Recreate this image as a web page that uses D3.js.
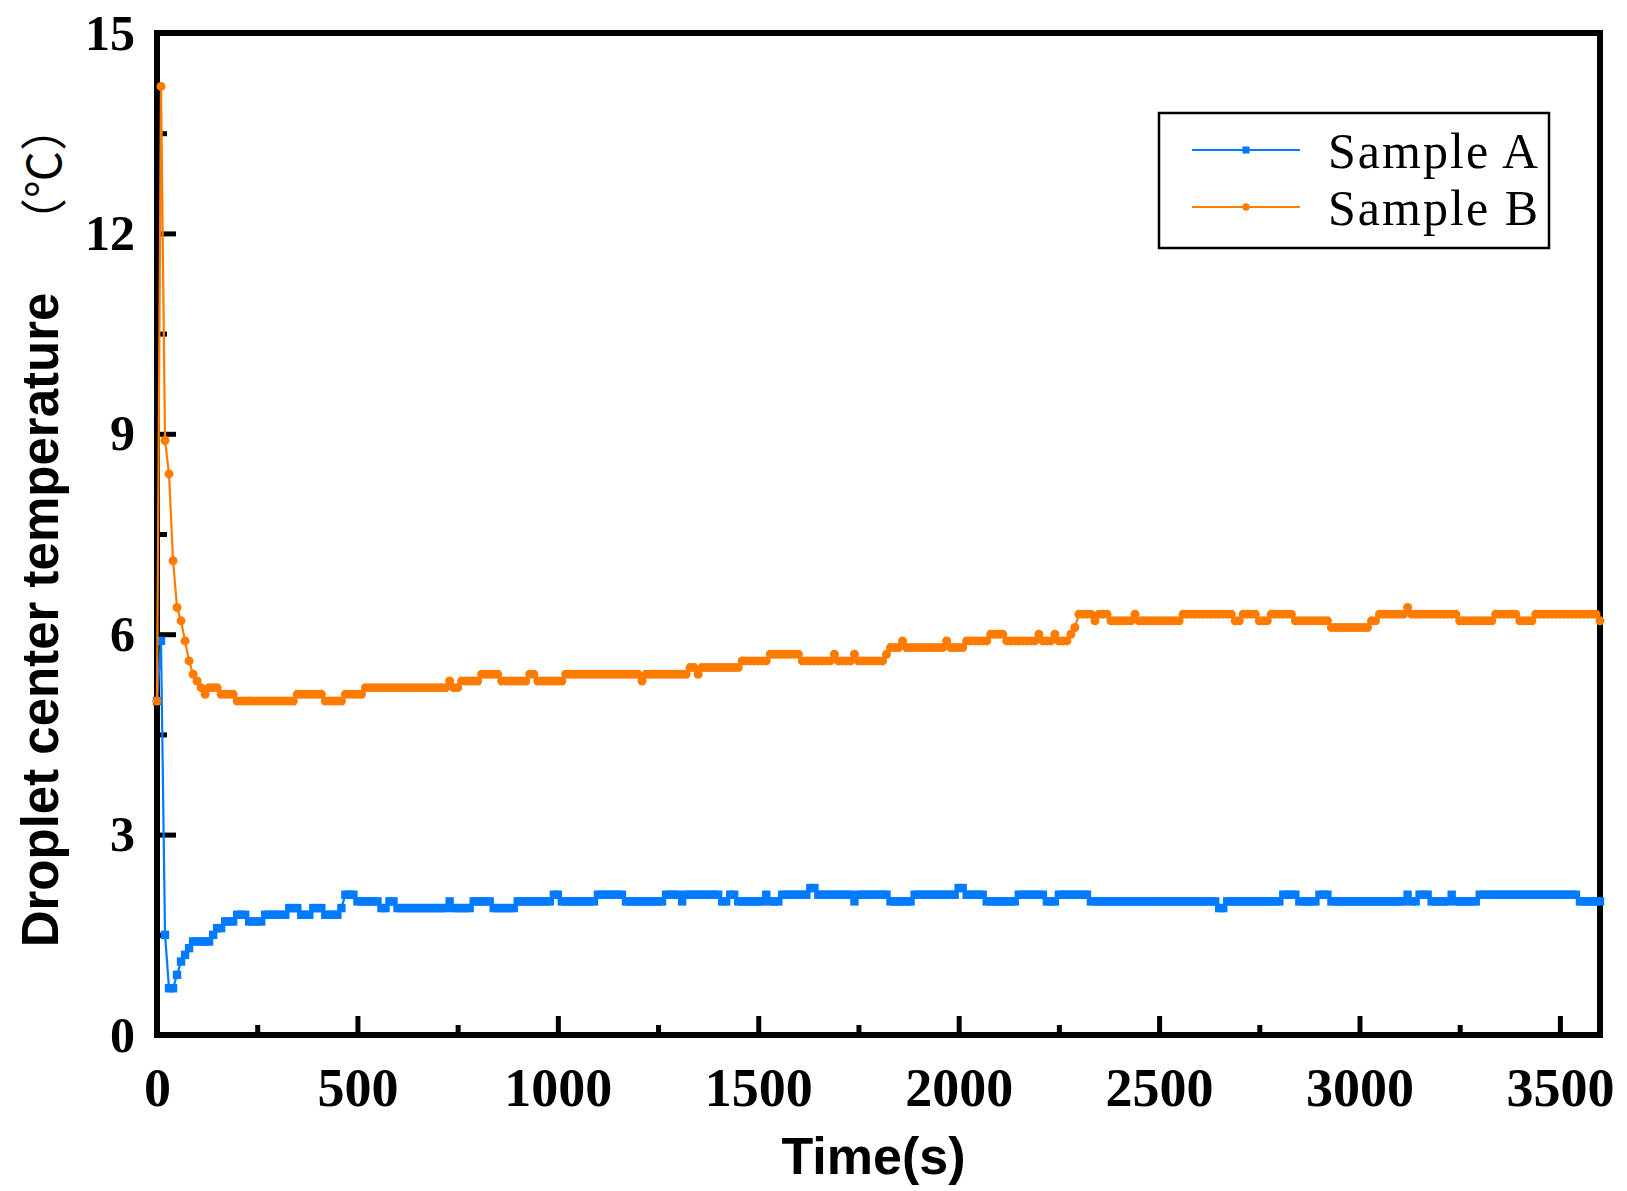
<!DOCTYPE html>
<html><head><meta charset="utf-8">
<script src="https://cdn.jsdelivr.net/npm/d3@7"></script>
<style>body{margin:0;background:#fff}</style>
</head><body><svg id="c" width="1627" height="1191"></svg>
<script>
const seriesNames = ["Sample A", "Sample B"];
const seriesColors = ["#007bff", "#ff7b00"];
const sampleInterval = 10;
const endTime = 3600;
// [time (s), temperature (°C)] at which the reading changes
const sampleAChanges = [[0,5.0],[10,5.9],[20,1.5],[30,0.7],[50,0.9],[60,1.1],[70,1.2],[80,1.3],[90,1.4],[140,1.5],[150,1.6],[170,1.7],[200,1.8],[230,1.7],[270,1.8],[330,1.9],[360,1.8],[390,1.9],[420,1.8],[460,1.9],[470,2.1],[500,2.0],[560,1.9],[580,2.0],[600,1.9],[730,2.0],[740,1.9],[790,2.0],[840,1.9],[900,2.0],[990,2.1],[1010,2.0],[1100,2.1],[1170,2.0],[1270,2.1],[1310,2.0],[1320,2.1],[1410,2.0],[1430,2.1],[1450,2.0],[1520,2.1],[1530,2.0],[1560,2.1],[1630,2.2],[1650,2.1],[1740,2.0],[1750,2.1],[1830,2.0],[1890,2.1],[2000,2.2],[2020,2.1],[2070,2.0],[2150,2.1],[2220,2.0],[2250,2.1],[2330,2.0],[2650,1.9],[2670,2.0],[2810,2.1],[2850,2.0],[2900,2.1],[2930,2.0],[3120,2.1],[3130,2.0],[3150,2.1],[3180,2.0],[3230,2.1],[3240,2.0],[3300,2.1],[3550,2.0]];
const sampleBChanges = [[0,5.0],[10,14.2],[20,8.9],[30,8.4],[40,7.1],[50,6.4],[60,6.2],[70,5.9],[80,5.6],[90,5.4],[100,5.3],[110,5.2],[120,5.1],[130,5.2],[160,5.1],[200,5.0],[350,5.1],[420,5.0],[470,5.1],[520,5.2],[730,5.3],[740,5.2],[760,5.3],[810,5.4],[860,5.3],[930,5.4],[950,5.3],[1020,5.4],[1210,5.3],[1220,5.4],[1330,5.5],[1350,5.4],[1360,5.5],[1460,5.6],[1530,5.7],[1610,5.6],[1690,5.7],[1700,5.6],[1740,5.7],[1750,5.6],[1820,5.7],[1830,5.8],[1860,5.9],[1870,5.8],[1970,5.9],[1980,5.8],[2020,5.9],[2080,6.0],[2120,5.9],[2200,6.0],[2210,5.9],[2240,6.0],[2250,5.9],[2280,6.0],[2290,6.1],[2300,6.3],[2340,6.2],[2350,6.3],[2380,6.2],[2440,6.3],[2450,6.2],[2560,6.3],[2690,6.2],[2710,6.3],[2750,6.2],[2780,6.3],[2840,6.2],[2930,6.1],[3030,6.2],[3050,6.3],[3120,6.4],[3130,6.3],[3250,6.2],[3340,6.3],[3400,6.2],[3440,6.3],[3600,6.2]];
const xTickValues = [0,500,1000,1500,2000,2500,3000,3500];
const xMinorTicks = [250,750,1250,1750,2250,2750,3250];
const yTickValues = [0,3,6,9,12,15];
const yMinorTicks = [1.5,4.5,7.5,10.5,13.5];
const xTitle = "Time(s)";
const yTitle = "Droplet center temperature";
const yUnit = "（℃）";

function expand(changes){
  const out=[]; let i=0;
  for(let t=0;t<=endTime;t+=sampleInterval){
    while(i+1<changes.length && changes[i+1][0]<=t) i++;
    out.push({t:t, v:changes[i][1]});
  }
  return out;
}
const seriesData = [expand(sampleAChanges), expand(sampleBChanges)];

const svg = d3.select("#c");
const L=157, R=1600, T=33, B=1035;
const x = d3.scaleLinear().domain([0,3600]).range([L,R]);
const y = d3.scaleLinear().domain([0,15]).range([B,T]);

const serif = "'Liberation Serif','Times New Roman',serif";
const sans = "'Liberation Sans',Arial,sans-serif";

// axes (ticks inward)
const gx = svg.append("g").attr("transform",`translate(0,${B})`)
  .call(d3.axisBottom(x).tickValues(xTickValues).tickSizeInner(-19).tickSizeOuter(0).tickPadding(33).tickFormat(d3.format("d")));
gx.select(".domain").remove();
gx.selectAll(".tick line").attr("stroke","#000").attr("stroke-width",5);
gx.selectAll(".tick text").attr("font-family",serif).attr("font-weight","bold").attr("font-size",54).attr("fill","#000");
const gxm = svg.append("g").attr("transform",`translate(0,${B})`)
  .call(d3.axisBottom(x).tickValues(xMinorTicks).tickSizeInner(-10).tickSizeOuter(0).tickFormat(""));
gxm.select(".domain").remove();
gxm.selectAll(".tick line").attr("stroke","#000").attr("stroke-width",5);

const gy = svg.append("g").attr("transform",`translate(${L},0)`)
  .call(d3.axisLeft(y).tickValues(yTickValues).tickSizeInner(-19).tickSizeOuter(0).tickPadding(22).tickFormat(d3.format("d")));
gy.select(".domain").remove();
gy.selectAll(".tick line").attr("stroke","#000").attr("stroke-width",5);
gy.selectAll(".tick text").attr("font-family",serif).attr("font-weight","bold").attr("font-size",50).attr("fill","#000");
const gym = svg.append("g").attr("transform",`translate(${L},0)`)
  .call(d3.axisLeft(y).tickValues(yMinorTicks).tickSizeInner(-10).tickSizeOuter(0).tickFormat(""));
gym.select(".domain").remove();
gym.selectAll(".tick line").attr("stroke","#000").attr("stroke-width",5);

// frame
svg.append("rect").attr("x",L).attr("y",T).attr("width",R-L).attr("height",B-T)
  .attr("fill","none").attr("stroke","#000").attr("stroke-width",6);

// series
const line = d3.line().x(d=>x(d.t)).y(d=>y(d.v));
seriesData.forEach((data,i)=>{
  const g = svg.append("g");
  g.append("path").datum(data).attr("d",line).attr("fill","none")
    .attr("stroke",seriesColors[i]).attr("stroke-width",2.2);
  if(i===0){
    g.selectAll("rect").data(data).join("rect")
      .attr("x",d=>x(d.t)-4.2).attr("y",d=>y(d.v)-4.2).attr("width",8.4).attr("height",8.4)
      .attr("fill",seriesColors[i]);
  } else {
    g.selectAll("circle").data(data).join("circle")
      .attr("cx",d=>x(d.t)).attr("cy",d=>y(d.v)).attr("r",4.5)
      .attr("fill",seriesColors[i]);
  }
});

// titles
svg.append("text").attr("x",(L+R)/2-5).attr("y",1174).attr("text-anchor","middle")
  .attr("font-family",sans).attr("font-weight","bold").attr("font-size",52).text(xTitle);
svg.append("text").attr("transform","translate(58,620) rotate(-90)").attr("text-anchor","middle")
  .attr("font-family",sans).attr("font-weight","bold").attr("font-size",51).text(yTitle);
svg.append("text").attr("transform","translate(61,245) rotate(-90)").attr("text-anchor","start")
  .attr("font-family","'Noto Sans CJK SC',sans-serif").attr("font-size",47).text(yUnit);

// legend
const lg = svg.append("g");
lg.append("rect").attr("x",1159).attr("y",113).attr("width",390).attr("height",135)
  .attr("fill","#fff").attr("stroke","#000").attr("stroke-width",2.5);
const legendY = [150,207];
seriesNames.forEach((name,i)=>{
  lg.append("line").attr("x1",1192).attr("x2",1300).attr("y1",legendY[i]).attr("y2",legendY[i])
    .attr("stroke",seriesColors[i]).attr("stroke-width",2);
  if(i===0) lg.append("rect").attr("x",1242.5).attr("y",legendY[i]-3.5).attr("width",7).attr("height",7).attr("fill",seriesColors[i]);
  else lg.append("circle").attr("cx",1246).attr("cy",legendY[i]).attr("r",3.7).attr("fill",seriesColors[i]);
  lg.append("text").attr("x",1328).attr("y",legendY[i]+18).attr("font-family",serif)
    .attr("font-size",50).attr("textLength",210).attr("lengthAdjust","spacing").text(name);
});
</script></body></html>
